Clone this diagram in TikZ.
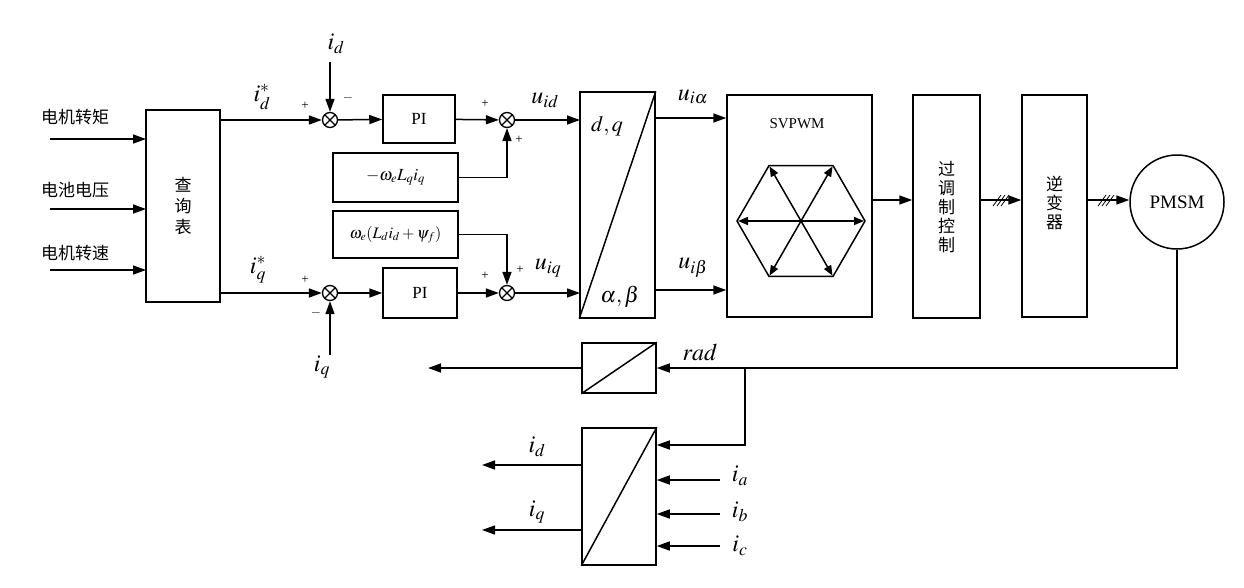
\documentclass[tikz,border=0pt]{standalone}
\usepackage{amsmath}
\usepackage{mathptmx}
\usepackage{fontspec}
\setmainfont{Liberation Serif}
\newfontfamily\cjk{Noto Sans CJK SC}
\usetikzlibrary{arrows.meta}
\begin{document}
\begin{tikzpicture}[x=1pt,y=-1pt,line width=1.5pt,
 >={Triangle[length=13pt,width=9pt]},
 blk/.style={draw,inner sep=0pt},
 sum/.style={draw,circle,minimum size=15pt,inner sep=0pt,line width=1.3pt,
   path picture={\draw[line width=1.2pt] (path picture bounding box.north west)--(path picture bounding box.south east) (path picture bounding box.north east)--(path picture bounding box.south west);}},
 cn/.style={font=\cjk\fontsize{17}{17}\selectfont},
 ml/.style={font=\fontsize{24}{24}\selectfont},
 pl/.style={font=\fontsize{13}{13}\selectfont}]
\useasboundingbox (0,0) rectangle (1244,587);
% lookup table
\node[blk,minimum width=74pt,minimum height=192pt] (lut) at (183,206) {};
\node[cn,align=center] (lutt) at (183,206) {查\\[4pt]询\\[4pt]表};
\coordinate (in1) at (50,139); \coordinate (in2) at (50,209); \coordinate (in3) at (50,270);
\draw[->] (in1) -- (146,139); \draw[->] (in2) -- (146,209); \draw[->] (in3) -- (146,270);
\node[cn] (t1) at (75,117) {电机转矩};
\node[cn] (t2) at (75,190) {电池电压};
\node[cn] (t3) at (75,253) {电机转速};
% d path
\node[sum] (s1) at (330,120) {};
\node[blk,minimum width=72pt,minimum height=48pt,font=\fontsize{17}{17}\selectfont] (pi1) at (419,119) {PI};
\node[sum] (s2) at (507,120) {};
\node[blk,minimum width=125pt,minimum height=49pt,font=\fontsize{17}{17}\selectfont] (c1) at (395.5,177.5) {$-\omega_e L_q i_q$};
\draw[->] (220,120) -- (s1);
\coordinate (idt) at (330,62);
\draw[->] (idt) -- (s1);
\node[ml] (idl) at (336,44) {$\boldsymbol{i_d}$};
\node[ml] (idsl) at (262,97) {$\boldsymbol{i_d^*}$};
\node[pl] at (305,106) {+}; \node[pl] at (348,98) {$-$};
\draw[->] (s1) -- (pi1);
\draw[->] (pi1) -- (s2);
\draw[->] (c1.east) -| (s2);
\node[pl] at (485,104) {+}; \node[pl] at (519,140) {+};
% dq box
\node[blk,minimum width=75pt,minimum height=226pt] (dq) at (617.5,205) {};
\draw (dq.south west) -- (dq.north east);
\node[font=\fontsize{22}{22}\selectfont] at (607,126) {$d,q$};
\node[font=\fontsize{22}{22}\selectfont] at (620,297) {$\alpha,\beta$};
\draw[->] (s2) -- (580,120);
\node[ml] at (545,100) {$\boldsymbol{u_{id}}$};
% q path
\node[sum] (s3) at (330,293) {};
\node[blk,minimum width=74pt,minimum height=50pt,font=\fontsize{17}{17}\selectfont] (pi2) at (420,293) {PI};
\node[sum] (s4) at (507,293) {};
\node[blk,minimum width=125pt,minimum height=47pt,font=\fontsize{16}{16}\selectfont] (c2) at (395.5,234.5) {$\omega_e(L_d i_d+\psi_f)$};
\draw[->] (220,293) -- (s3);
\coordinate (iqb) at (330,355);
\draw[->] (iqb) -- (s3);
\node[ml] (iql) at (322,367) {$\boldsymbol{i_q}$};
\node[ml] (iqsl) at (258,270) {$\boldsymbol{i_q^*}$};
\node[pl] at (305,280) {+}; \node[pl] at (316,313) {$-$};
\draw[->] (s3) -- (pi2);
\draw[->] (pi2) -- (s4);
\draw[->] (c2.east) -| (s4);
\node[pl] at (485,276) {+}; \node[pl] at (520,270) {+};
\draw[->] (s4) -- (580,293);
\node[ml] at (548,268) {$\boldsymbol{u_{iq}}$};
% SVPWM
\node[blk,minimum width=145pt,minimum height=222pt] (sv) at (799.5,206) {};
\node[font=\fontsize{15}{15}\selectfont] at (797,124) {SVPWM};
\draw[->] (655,118) -- (sv.west|-0,118);
\draw[->] (655,290) -- (sv.west|-0,290);
\node[ml] at (693,97) {$\boldsymbol{u_{i\alpha}}$};
\node[ml] at (693,268) {$\boldsymbol{u_{i\beta}}$};
\coordinate (hc) at (801,221);
\draw (hc) +(0:64) -- +(60:64) -- +(120:64) -- +(180:64) -- +(240:64) -- +(300:64) -- cycle;
\foreach \a in {0,60,120,180,240,300} \draw[->,>={Triangle[length=10pt,width=8pt]}] (hc) -- +(\a:63);
% overmodulation
\node[blk,minimum width=67pt,minimum height=223pt] (om) at (946.5,206.5) {};
\node[cn,align=center] at (946.5,207) {过\\[2pt]调\\[2pt]制\\[2pt]控\\[2pt]制};
\draw[->] (sv.east|-0,200) -- (om.west|-0,200);
% inverter
\node[blk,minimum width=65pt,minimum height=222pt] (inv) at (1054.5,206) {};
\node[cn,align=center] at (1054.5,203) {逆\\[2pt]变\\[2pt]器};
\draw[->] (om.east|-0,200) -- (inv.west|-0,200);
\foreach \d in {0,4,8} \draw[line width=0.8pt] (993+\d,206) -- (1001+\d,195);
% PMSM
\node[draw,circle,minimum size=94pt,inner sep=0pt,font=\fontsize{19}{19}\selectfont] (pm) at (1177,202) {PMSM};
\draw[->] (inv.east|-0,200) -- (pm.west|-0,200);
\foreach \d in {0,4,8} \draw[line width=0.8pt] (1098+\d,206) -- (1106+\d,195);
% rad
\node[blk,minimum width=74pt,minimum height=50pt] (rb) at (619,368) {};
\draw (rb.south west) -- (rb.north east);
\coordinate (rout) at (428,368);
\draw[->] (rb.west) -- (rout);
\draw[->] (pm.south) |- (rb.east);
\node[ml] at (700,352) {$\boldsymbol{rad}$};
% abc box
\node[blk,minimum width=74pt,minimum height=137pt] (ab) at (619,496.5) {};
\draw (ab.south west) -- (ab.north east);
\coordinate (br) at (745,368);
\draw[->] (br) |- (ab.east|-0,445);
\coordinate (od) at (482,465); \coordinate (oq) at (482,530);
\draw[->] (ab.west|-0,465) -- (od);
\draw[->] (ab.west|-0,530) -- (oq);
\node[ml] at (537,447) {$\boldsymbol{i_d}$};
\node[ml] at (537,512) {$\boldsymbol{i_q}$};
\coordinate (ia) at (720,480); \coordinate (ib) at (720,514); \coordinate (ic) at (720,546);
\draw[->] (ia) -- (ab.east|-ia);
\draw[->] (ib) -- (ab.east|-ib);
\draw[->] (ic) -- (ab.east|-ic);
\node[ml] at (740,476) {$\boldsymbol{i_a}$};
\node[ml] at (740,512) {$\boldsymbol{i_b}$};
\node[ml] at (740,546) {$\boldsymbol{i_c}$};
\end{tikzpicture}
\end{document}
